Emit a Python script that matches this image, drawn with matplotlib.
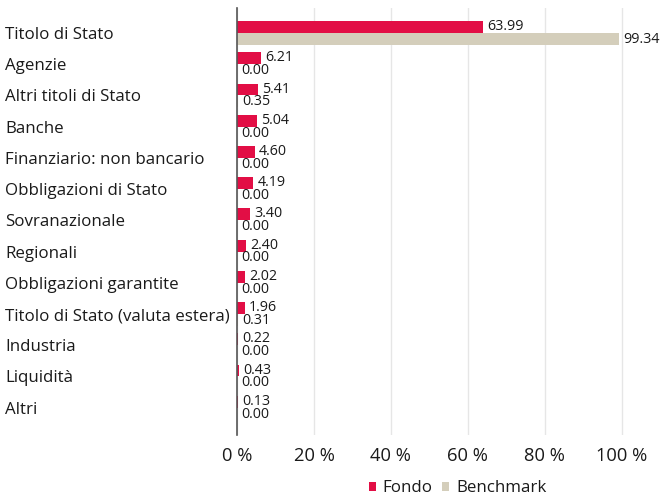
import matplotlib
matplotlib.use("Agg")
import matplotlib.pyplot as plt
import numpy as np

categories = ["Titolo di Stato", "Agenzie", "Altri titoli di Stato", "Banche",
              "Finanziario: non bancario", "Obbligazioni di Stato", "Sovranazionale",
              "Regionali", "Obbligazioni garantite", "Titolo di Stato (valuta estera)",
              "Industria", "Liquidità", "Altri"]
fondo = [63.99, 6.21, 5.41, 5.04, 4.60, 4.19, 3.40, 2.40, 2.02, 1.96, 0.22, 0.43, 0.13]
benchmark = [99.34, 0.00, 0.35, 0.00, 0.00, 0.00, 0.00, 0.00, 0.00, 0.31, 0.00, 0.00, 0.00]
xticks = [0, 20, 40, 60, 80, 100]
xtick_labels = ["0 %", "20 %", "40 %", "60 %", "80 %", "100 %"]

plt.rcParams['font.family'] = ['Open Sans', 'DejaVu Sans']
c_f = "#E20E45"
c_b = "#D4CEBB"
txt = "#1A1A1A"

fig = plt.figure(figsize=(6.68, 5.01), dpi=100)
ax = fig.add_axes([0.355, 0.132, 0.633, 0.852])

y = np.arange(len(categories))
h = 0.38
ax.barh(y - h/2, fondo, height=h, color=c_f, label="Fondo", zorder=3)
ax.barh(y + h/2, benchmark, height=h, color=c_b, label="Benchmark", zorder=3)

for i in range(len(categories)):
    ax.annotate(f"{fondo[i]:.2f}", (fondo[i], y[i] - h/2), xytext=(3, 0.3),
                textcoords="offset points", va="center", ha="left", fontsize=10.3, color=txt)
    ax.annotate(f"{benchmark[i]:.2f}", (benchmark[i], y[i] + h/2), xytext=(3, -0.3),
                textcoords="offset points", va="center", ha="left", fontsize=10.3, color=txt)

ax.set_xlim(0, 110)
ax.set_ylim(len(categories) - 0.13, -0.8)
ax.set_yticks(y)
ax.set_yticklabels(categories, fontsize=12.2, color=txt)
ax.tick_params(axis='y', length=0, pad=(237 - 5) * 0.72)
for lab in ax.get_yticklabels():
    lab.set_horizontalalignment('left')
ax.set_xticks(xticks)
ax.set_xticklabels(xtick_labels, fontsize=13.2, color=txt)
ax.tick_params(axis='x', length=0, pad=9)
ax.grid(axis='x', color="#E6E6E6", linewidth=1, zorder=0)
for s in ["top", "right", "bottom"]:
    ax.spines[s].set_visible(False)
ax.spines["left"].set_color("#555555")
ax.spines["left"].set_linewidth(1.2)
ax.spines["left"].set_zorder(4)

leg = fig.legend(loc="center", bbox_to_anchor=(0.685, 0.025), ncol=2, frameon=False,
                 fontsize=12.2, handlelength=0.4, handleheight=0.4, handletextpad=0.4,
                 columnspacing=0.6)
for t in leg.get_texts():
    t.set_color(txt)

fig.savefig("out.png", dpi=100)
